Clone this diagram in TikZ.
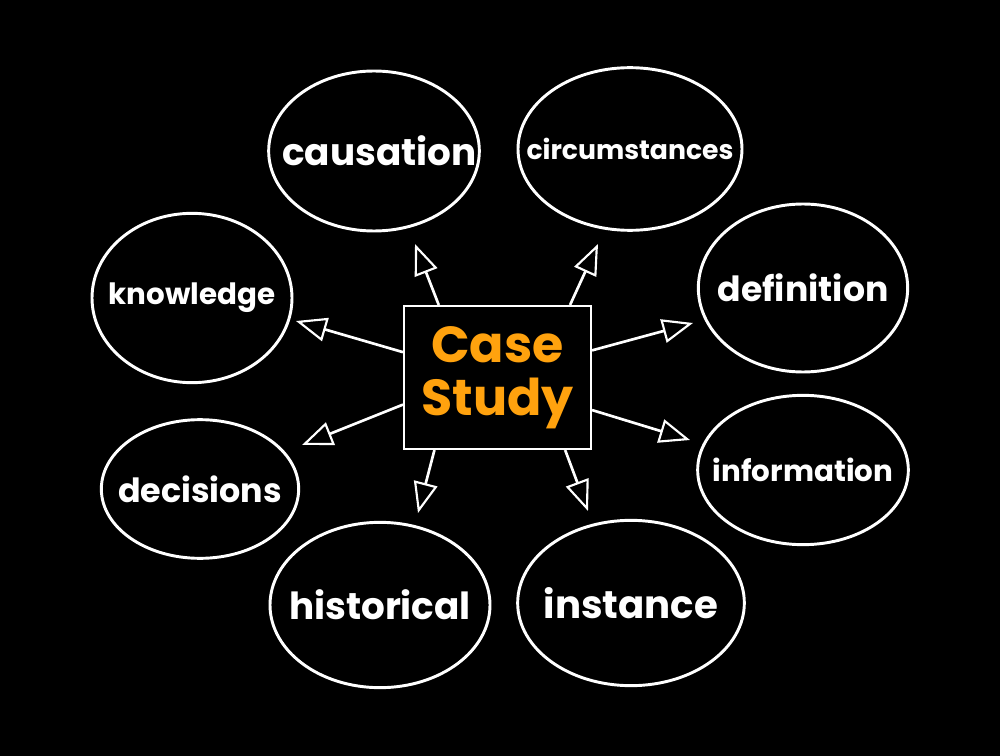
\documentclass[tikz,border=0pt]{standalone}
\usepackage{fontspec}
\setmainfont{Poppins}
\usetikzlibrary{shapes.geometric,arrows.meta}
\definecolor{casecol}{RGB}{255,162,14}

\tikzset{
  bubble/.style={draw=white, line width=2.2pt, ellipse, inner sep=0pt},
  word/.style={text=white, font=\bfseries},
  arr/.style={draw=white, line width=2pt, -{Triangle[open, length=23pt, width=18pt, line width=1.6pt]}},
}

\begin{document}
\begin{tikzpicture}[x=0.75pt,y=0.75pt,yscale=-1,xscale=1]
\path[fill=black] (0,0) rectangle (1000,756);

\node (box) [draw=white, line width=1.8pt, minimum width=140pt, minimum height=107pt, align=center, text=casecol, font=\bfseries\fontsize{38}{40}\selectfont] at (497.5,377.5) {Case\\Study};

\node (causation) [bubble, minimum width=158pt, minimum height=120pt, label={[word, xshift=4pt]center:\fontsize{28}{30}\selectfont causation}] at (374,151) {};
\node (circum) [bubble, minimum width=168pt, minimum height=122pt, label={[word]center:\fontsize{20}{24}\selectfont circumstances}] at (630,149) {};
\node (knowledge) [bubble, minimum width=150pt, minimum height=127pt, label={[word]center:\fontsize{22}{26}\selectfont knowledge}] at (192,298) {};
\node (definition) [bubble, minimum width=157pt, minimum height=126pt, label={[word]center:\fontsize{26}{28}\selectfont definition}] at (803,288) {};
\node (decisions) [bubble, minimum width=148pt, minimum height=104pt, label={[word]center:\fontsize{25}{28}\selectfont decisions}] at (200,489) {};
\node (information) [bubble, minimum width=158pt, minimum height=112pt, label={[word]center:\fontsize{22}{26}\selectfont information}] at (803,470) {};
\node (historical) [bubble, minimum width=165pt, minimum height=124pt, label={[word]center:\fontsize{28}{30}\selectfont historical}] at (380,605) {};
\node (instance) [bubble, minimum width=170pt, minimum height=124pt, label={[word]center:\fontsize{29}{30}\selectfont instance}] at (631,603) {};

% arrow tips
\coordinate (tcaus) at (415,244);
\coordinate (tcirc) at (598,244);
\coordinate (tknow) at (296,321);
\coordinate (tdefi) at (693,323);
\coordinate (tdeci) at (302,445);
\coordinate (tinfo) at (690,440);
\coordinate (thist) at (418,513);
\coordinate (tinst) at (588,511);

\foreach \a/\t in {129/tcaus, 45/tcirc, 165/tknow, 16/tdefi, 196/tdeci, 341/tinfo, 229/thist, 313/tinst}
  \draw[arr] (box.\a) -- (\t);
\end{tikzpicture}
\end{document}
